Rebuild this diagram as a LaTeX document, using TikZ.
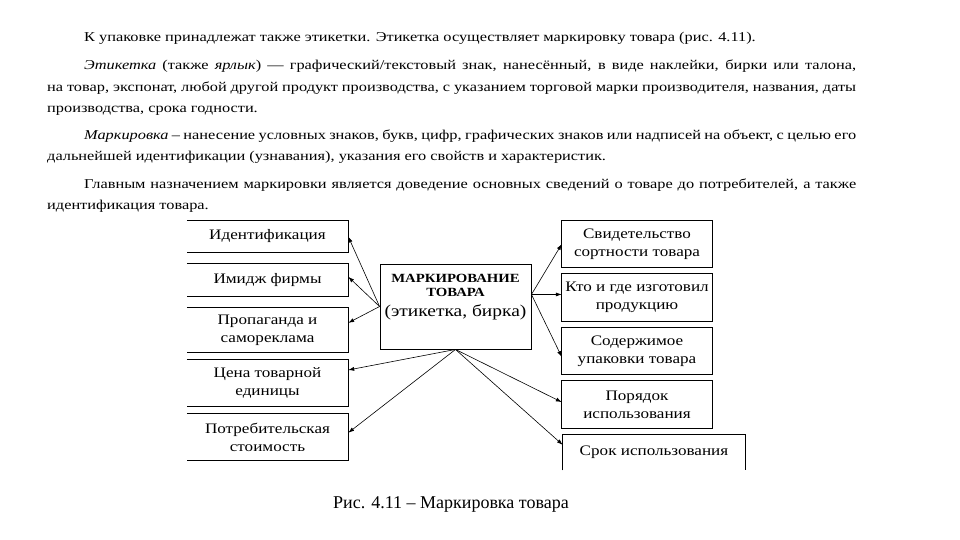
\documentclass[tikz,border=0pt]{standalone}
\usepackage{fontspec}
\setmainfont{Liberation Serif}
\newfontfamily\bodyfont[FakeStretch=1.21]{Liberation Serif}
\newfontfamily\boxfont[FakeStretch=1.18]{Liberation Serif}
\usetikzlibrary{arrows.meta,calc}
\begin{document}
\begin{tikzpicture}[x=1pt,y=-1pt,
  txt/.style={anchor=base west,inner sep=0pt,font=\bodyfont\fontsize{13.5}{15}\selectfont},
  bx/.style={inner sep=0pt,align=center,font=\boxfont\fontsize{14.5}{18}\selectfont},
  ctx/.style={anchor=base,inner sep=0pt},
  side/.style={line width=0.9pt},
  arr/.style={line width=0.6pt,-{Latex[length=6pt,width=4pt]}}]
\fill[white] (0,0) rectangle (960,540);
\useasboundingbox (0,0) rectangle (960,540);
% body text
\node[txt] (t1) at (84,42) {К упаковке принадлежат также этикетки. Этикетка осуществляет маркировку товара (рис. 4.11).};
\node[txt] (t2) at (84,70) {\hbox to 772pt{\textit{Этикетка} (также \textit{ярлык}) — графический/текстовый знак, нанесённый, в виде наклейки, бирки или талона,}};
\node[txt] (t3) at (47,91.5) {\hbox to 809pt{на товар, экспонат, любой другой продукт производства, с указанием торговой марки производителя, названия, даты}};
\node[txt] (t4) at (47,113) {производства, срока годности.};
\node[txt] (t5) at (84,139.5) {\hbox to 772pt{\textit{Маркировка} – нанесение условных знаков, букв, цифр, графических знаков или надписей на объект, с целью его}};
\node[txt] (t6) at (47,160.5) {дальнейшей идентификации (узнавания), указания его свойств и характеристик.};
\node[txt] (t7) at (84,188.5) {\hbox to 772pt{Главным назначением маркировки является доведение основных сведений о товаре до потребителей, а также}};
\node[txt] (t8) at (47,209.5) {идентификация товара.};
% left boxes
\node[bx,minimum width=161pt,minimum height=31pt] (l1) at (267.5,236.5) {Идентификация};
\node[bx,minimum width=161pt,minimum height=32pt] (l2) at (267.5,280) {Имидж фирмы};
\node[bx,minimum width=161pt,minimum height=44pt] (l3) at (267.5,330) {Пропаганда и\\самореклама};
\node[bx,minimum width=161pt,minimum height=46pt] (l4) at (267.5,383) {Цена товарной\\единицы};
\node[bx,minimum width=161pt,minimum height=46pt] (l5) at (267.5,437) {Потребительская\\стоимость};
\foreach \n in {l1,l2,l3,l4,l5}
  \draw[side] (\n.north west) -- (\n.north east) -- (\n.south east) -- (\n.south west);
% centre
\node[draw,side,minimum width=151pt,minimum height=85pt,inner sep=0pt] (c) at (455.5,306.5) {};
\node[ctx,font=\boxfont\fontsize{12.5}{14}\selectfont\bfseries] (ct1) at (455.5,282) {МАРКИРОВАНИЕ};
\node[ctx,font=\boxfont\fontsize{12.5}{14}\selectfont\bfseries] (ct2) at (455.5,296.5) {ТОВАРА};
\node[ctx,font=\boxfont\fontsize{16.5}{18}\selectfont] (ct3) at (455.5,316) {(этикетка, бирка)};
% right boxes
\node[bx,minimum width=150pt,minimum height=46pt] (r1) at (637,244) {Свидетельство\\сортности товара};
\node[bx,minimum width=150pt,minimum height=47pt] (r2) at (637,297.5) {Кто и где изготовил\\продукцию};
\node[bx,minimum width=150pt,minimum height=46pt] (r3) at (637,351) {Содержимое\\упаковки товара};
\node[bx,minimum width=150pt,minimum height=47pt] (r4) at (637,404.5) {Порядок\\использования};
\node[bx,minimum width=182pt,minimum height=36pt,anchor=north] (r5) at (654,434) {Срок использования};
\foreach \n in {r1,r2,r3,r4}
  \draw[side] (\n.north west) rectangle (\n.south east);
\draw[side] (r5.south west) -- (r5.north west) -- (r5.north east) -- (r5.south east);
% arrows
\draw[arr] (c.west) -- (l1.east);
\draw[arr] (c.west) -- ($(l2.north east)!0.4!(l2.south east)$);
\draw[arr] (c.west) -- ($(l3.north east)!0.34!(l3.south east)$);
\draw[arr] (c.south) -- ($(l4.north east)!0.22!(l4.south east)$);
\draw[arr] (c.south) -- ($(l5.north east)!0.41!(l5.south east)$);
\coordinate (ce) at ($(c.north east)!0.36!(c.south east)$);
\draw[arr] (ce) -- (r1.west);
\draw[arr] (ce) -- (ce -| r2.west);
\draw[arr] (ce) -- ($(r3.north west)!0.63!(r3.south west)$);
\draw[arr] (c.south) -- ($(r4.north west)!0.45!(r4.south west)$);
\draw[arr] (c.south) -- ($(r5.north west)!0.3!(r5.south west)$);
% caption
\node[anchor=base,inner sep=0pt,font=\fontsize{18}{21}\selectfont] (cap) at (451,508) {Рис. 4.11 – Маркировка товара};
\end{tikzpicture}
\end{document}
